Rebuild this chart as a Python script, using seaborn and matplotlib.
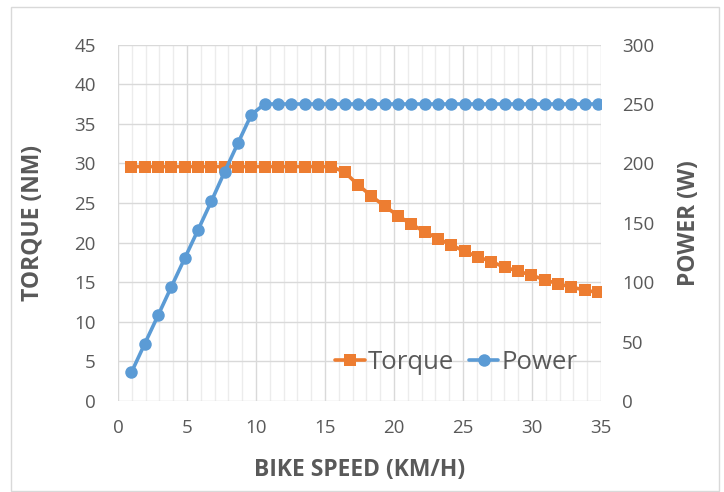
import matplotlib
matplotlib.use("Agg")
from matplotlib import pyplot as plt
from matplotlib.patches import Rectangle
from matplotlib.ticker import MultipleLocator
import seaborn as sns

# 数据: 车速 (km/h), 扭矩 (Nm), 功率 (W)
speed = [0.97, 1.93, 2.90, 3.86, 4.83, 5.80, 6.76, 7.73, 8.69, 9.66,
         10.63, 11.59, 12.56, 13.52, 14.49, 15.46, 16.42, 17.39, 18.35, 19.32,
         20.29, 21.25, 22.22, 23.18, 24.15, 25.12, 26.08, 27.05, 28.01, 28.98,
         29.95, 30.91, 31.88, 32.84, 33.81, 34.78]
torque = [29.6] * 16 + [28.9, 27.3, 25.9, 24.6, 23.4, 22.3, 21.4, 20.5, 19.7, 18.9,
                        18.2, 17.6, 16.9, 16.4, 15.9, 15.3, 14.8, 14.4, 14.0, 13.7]
power = [24, 48, 72, 96, 120, 144, 168, 193, 217, 241] + [250] * 26

orange = '#ED7D31'
blue = '#5B9BD5'
txt = '#595959'

sns.set_style('white')
plt.rcParams['font.family'] = ['Open Sans', 'DejaVu Sans']

fig = plt.figure(figsize=(7.24, 4.92), dpi=100)
ax = fig.add_axes([118 / 724, 91 / 492, 483 / 724, 356.4 / 492])
ax2 = ax.twinx()

sns.lineplot(x=speed, y=torque, ax=ax, color=orange, linewidth=2.6,
             marker='s', markersize=8, markeredgewidth=0, label='Torque',
             legend=False)
sns.lineplot(x=speed, y=power, ax=ax2, color=blue, linewidth=2.6,
             marker='o', markersize=9, markeredgewidth=0, label='Power',
             legend=False)

ax.set_xlim(0, 35)
ax.set_ylim(0, 45)
ax2.set_ylim(0, 300)
ax.xaxis.set_major_locator(MultipleLocator(5))
ax.xaxis.set_minor_locator(MultipleLocator(1))
ax.yaxis.set_major_locator(MultipleLocator(5))
ax2.yaxis.set_major_locator(MultipleLocator(50))

# 网格
ax.set_axisbelow(True)
ax.grid(True, which='major', color='#d9d9d9', linewidth=1)
ax.grid(True, which='minor', axis='x', color='#ececec', linewidth=1)
ax2.grid(False)
for a in (ax, ax2):
    for s in a.spines.values():
        s.set_visible(False)

ax.tick_params(axis='both', which='both', length=0, labelsize=13.5, labelcolor=txt)
ax.tick_params(axis='y', pad=16)
ax.tick_params(axis='x', pad=13)
ax2.tick_params(axis='y', length=0, labelsize=13.5, labelcolor=txt, pad=15)

ax.set_xlabel('BIKE SPEED (KM/H)', fontsize=16.5, fontweight='bold', color=txt)
ax.set_ylabel('TORQUE (NM)', fontsize=16.5, fontweight='bold', color=txt)
ax2.set_ylabel('POWER (W)', fontsize=16.5, fontweight='bold', color=txt)
ax.xaxis.set_label_coords(0.5, -0.16)
ax.yaxis.set_label_coords(-0.152, 0.5)
ax2.yaxis.set_label_coords(1.158, 0.5)

h1, l1 = ax.get_legend_handles_labels()
h2, l2 = ax2.get_legend_handles_labels()
ax2.legend(h1 + h2, l1 + l2, loc='center', bbox_to_anchor=(0.70, 0.107),
           ncol=2, frameon=False, fontsize=18.5, labelcolor=txt,
           handlelength=1.15, handletextpad=0.1, columnspacing=0.6)

# 外框
fig.patches.append(Rectangle((10.5 / 724, 1.5 / 492), 708.5 / 724, 484 / 492,
                             transform=fig.transFigure, fill=False,
                             edgecolor='#d9d9d9', linewidth=1))

fig.savefig('out.png', dpi=100)
